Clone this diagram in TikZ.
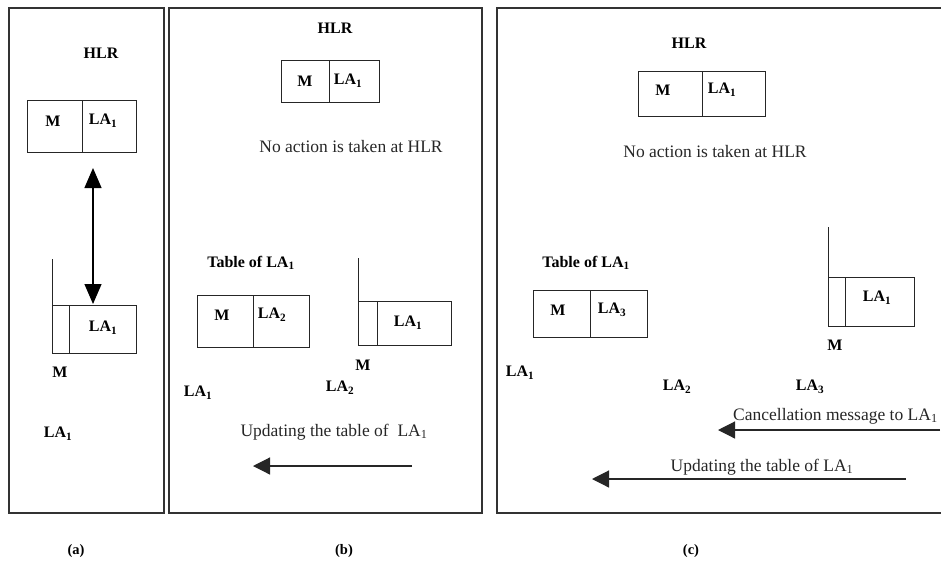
\documentclass[tikz,border=0pt]{standalone}
\usepackage{fontspec}
\setmainfont{Liberation Serif}
\usetikzlibrary{arrows.meta}

\begin{document}
\begin{tikzpicture}[x=1pt, y=-1pt,
  panel/.style={draw=black!80, line width=1.5pt, inner sep=0pt, outer sep=0pt},
  cell/.style={draw=black!85, line width=1pt, inner sep=0pt, outer sep=0pt},
  bl/.style={font=\fontsize{16}{18}\selectfont\bfseries, inner sep=0pt},
  note/.style={font=\fontsize{17.5}{20}\selectfont, inner sep=0pt, text=black!85},
  captext/.style={font=\fontsize{14.5}{16}\selectfont\bfseries, inner sep=0pt},
  msg/.style={line width=1.2pt, draw=black!85, -{Triangle[length=17pt,width=17pt]}},
  twoway/.style={line width=1.2pt, {Triangle[length=20pt,width=17pt]}-{Triangle[length=20pt,width=17pt]}},
  stem/.style={line width=1pt, draw=black!85}]

\useasboundingbox (0,0) rectangle (941,562);

% three frames
\draw[panel] (9,8) rectangle (164,513);
\draw[panel] (169,8) rectangle (482,513);
\draw[panel] (497,8) rectangle (945,513);

% ---------------- (a) ----------------
\node[bl] (aHLR) at (101,53) {HLR};
\draw[cell] (27,100) rectangle (82,152);
\draw[cell] (82,100) rectangle (136,152);
\node[bl] (aM) at (53,121) {M};
\node[bl] (aLA) at (103,121) {LA\textsubscript{1}};

\draw[cell] (52,305) rectangle (69,353);
\draw[cell] (69,305) rectangle (136,353);
\coordinate (aStemTop) at (52,259);
\coordinate (aStemBot) at (52,305);
\draw[stem] (aStemTop) -- (aStemBot);
\node[bl] (aLAb) at (103,328) {LA\textsubscript{1}};
\node[bl] (aMb) at (60,372) {M};
\node[bl] (aLAc) at (58,434) {LA\textsubscript{1}};

\coordinate (aUp) at (93,168);
\coordinate (aDown) at (93,304);
\draw[twoway] (aUp) -- (aDown);

% ---------------- (b) ----------------
\node[bl] (bHLR) at (335,28) {HLR};
\draw[cell] (281,60) rectangle (329,102);
\draw[cell] (329,60) rectangle (379,102);
\node[bl] (bM) at (305,81) {M};
\node[bl] (bLA) at (348,81) {LA\textsubscript{1}};
\node[note] (bNote) at (351,147) {No action is taken at HLR};

\node[bl] (bTab) at (251,263) {Table of LA\textsubscript{1}};
\draw[cell] (197,295) rectangle (253,347);
\draw[cell] (253,295) rectangle (309,347);
\node[bl] (bTM) at (222,315) {M};
\node[bl] (bTLA) at (272,315) {LA\textsubscript{2}};

\draw[cell] (358,301) rectangle (377,345);
\draw[cell] (377,301) rectangle (451,345);
\coordinate (bStemTop) at (358,258);
\coordinate (bStemBot) at (358,301);
\draw[stem] (bStemTop) -- (bStemBot);
\node[bl] (bRLA) at (408,323) {LA\textsubscript{1}};
\node[bl] (bRM) at (363,365) {M};

\node[bl] (bLA1) at (198,393) {LA\textsubscript{1}};
\node[bl] (bLA2) at (340,388) {LA\textsubscript{2}};

\node[note] (bUpd) at (334,432) {Updating the table of\ \ LA\textsubscript{1}};
\coordinate (bFrom) at (412,466);
\coordinate (bTo) at (253,466);
\draw[msg] (bFrom) -- (bTo);

\node[captext] (capA) at (76,551) {(a)};
\node[captext] (capB) at (344,551) {(b)};
\node[captext] (capC) at (691,551) {(c)};

% ---------------- (c) ----------------
\node[bl] (cHLR) at (689,43) {HLR};
\draw[cell] (638,71) rectangle (702,116);
\draw[cell] (702,71) rectangle (765,116);
\node[bl] (cM) at (663,90) {M};
\node[bl] (cLA) at (722,90) {LA\textsubscript{1}};
\node[note] (cNote) at (715,152) {No action is taken at HLR};

\node[bl] (cTab) at (586,263) {Table of LA\textsubscript{1}};
\draw[cell] (533,290) rectangle (590,337);
\draw[cell] (590,290) rectangle (647,337);
\node[bl] (cTM) at (558,310) {M};
\node[bl] (cTLA) at (612,310) {LA\textsubscript{3}};

\draw[cell] (828,277) rectangle (845,326);
\draw[cell] (845,277) rectangle (914,326);
\coordinate (cStemTop) at (828,227);
\coordinate (cStemBot) at (828,277);
\draw[stem] (cStemTop) -- (cStemBot);
\node[bl] (cRLA) at (877,298) {LA\textsubscript{1}};
\node[bl] (cRM) at (835,345) {M};

\node[bl] (cLA1) at (520,373) {LA\textsubscript{1}};
\node[bl] (cLA2) at (677,387) {LA\textsubscript{2}};
\node[bl] (cLA3) at (810,387) {LA\textsubscript{3}};

\node[note, anchor=west] (cCan) at (733,416) {Cancellation message to LA\textsubscript{1}};
\coordinate (cCanFrom) at (940,430);
\coordinate (cCanTo) at (718,430);
\draw[msg] (cCanFrom) -- (cCanTo);

\node[note] (cUpd) at (762,467) {Updating the table of LA\textsubscript{1}};
\coordinate (cUpdFrom) at (906,479);
\coordinate (cUpdTo) at (592,479);
\draw[msg] (cUpdFrom) -- (cUpdTo);

\end{tikzpicture}
\end{document}
